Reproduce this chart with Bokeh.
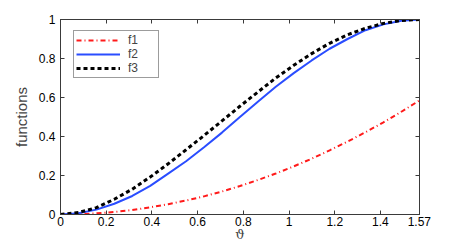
from bokeh.plotting import figure
from bokeh.models import Range1d, FixedTicker, LinearAxis, Legend, LegendItem
from bokeh.embed import file_html
from bokeh.resources import INLINE

theta = [0, 0.0785, 0.157, 0.2355, 0.314, 0.3925, 0.471, 0.5495, 0.628, 0.7065, 0.785,
         0.8635, 0.942, 1.0205, 1.099, 1.1775, 1.256, 1.3345, 1.413, 1.4915, 1.5708]
f1 = [0, 0.0015, 0.006, 0.013, 0.023, 0.037, 0.053, 0.072, 0.093, 0.118, 0.146,
      0.177, 0.21, 0.247, 0.286, 0.329, 0.374, 0.422, 0.473, 0.527, 0.585]
f2 = [0, 0.006, 0.025, 0.055, 0.095, 0.147, 0.21, 0.273, 0.345, 0.42, 0.5,
      0.578, 0.655, 0.725, 0.79, 0.85, 0.9, 0.945, 0.975, 0.994, 1.0]
f3 = [0, 0.01, 0.035, 0.078, 0.13, 0.192, 0.26, 0.332, 0.405, 0.48, 0.555,
      0.628, 0.70, 0.765, 0.825, 0.878, 0.922, 0.955, 0.98, 0.995, 1.0]

x_ticks = [0, 0.2, 0.4, 0.6, 0.8, 1.0, 1.2, 1.4, 1.57]
x_tick_labels = ["0", "0.2", "0.4", "0.6", "0.8", "1", "1.2", "1.4", "1.57"]
y_ticks = [0, 0.2, 0.4, 0.6, 0.8, 1.0]
y_tick_labels = ["0", "0.2", "0.4", "0.6", "0.8", "1"]

FONT = "Liberation Sans"
AXC = "#3a3a3a"

p = figure(width=463, height=245, output_backend="svg", toolbar_location=None,
           x_range=Range1d(0, 1.5708), y_range=Range1d(0, 1),
           min_border_left=60, min_border_right=44, min_border_top=19, min_border_bottom=31)
p.grid.visible = False
p.outline_line_color = AXC
p.background_fill_color = "white"
p.border_fill_color = "white"

def style(ax, ticks, labels, show_labels=True):
    ax.ticker = FixedTicker(ticks=ticks)
    ax.major_label_overrides = {t: (l if show_labels else "") for t, l in zip(ticks, labels)}
    ax.minor_tick_line_color = None
    ax.major_tick_in = 4
    ax.major_tick_out = 0
    ax.axis_line_color = AXC
    ax.major_tick_line_color = AXC
    ax.major_label_text_font = FONT
    ax.major_label_text_font_size = "12px"
    ax.major_label_text_color = "black"

style(p.xaxis[0], x_ticks, x_tick_labels)
style(p.yaxis[0], y_ticks, y_tick_labels)
p.xaxis[0].major_label_standoff = 2
p.xaxis[0].axis_label = "\u03d1"
p.xaxis[0].axis_label_text_font = "DejaVu Serif"
p.xaxis[0].axis_label_text_font_size = "13px"
p.xaxis[0].axis_label_text_font_style = "normal"
p.xaxis[0].axis_label_standoff = -2
p.yaxis[0].major_label_standoff = 5
p.yaxis[0].axis_label = "functions"
p.yaxis[0].axis_label_text_font = FONT
p.yaxis[0].axis_label_text_font_size = "15px"
p.yaxis[0].axis_label_text_font_style = "normal"
p.yaxis[0].axis_label_standoff = 6

top = LinearAxis()
style(top, x_ticks, x_tick_labels, show_labels=False)
top.major_label_text_font_size = "0px"
right = LinearAxis()
style(right, y_ticks, y_tick_labels, show_labels=False)
right.major_label_text_font_size = "0px"
p.add_layout(top, "above")
p.add_layout(right, "right")

r1 = p.line(theta, f1, line_color="#ff1a1a", line_width=2, line_dash="5 3 1 3")
r2 = p.line(theta, f2, line_color="#2a4dff", line_width=2)
r3 = p.line(theta, f3, line_color="black", line_width=3, line_dash="4 3")

legend = Legend(items=[LegendItem(label="f1", renderers=[r1]),
                       LegendItem(label="f2", renderers=[r2]),
                       LegendItem(label="f3", renderers=[r3])],
                location=(13, 136), glyph_width=44, glyph_height=12, label_height=12,
                label_width=28, spacing=0, padding=2, margin=0, label_standoff=8,
                label_text_font=FONT, label_text_font_size="12px",
                border_line_color=AXC, border_line_width=1, background_fill_alpha=1)
p.add_layout(legend, "center")

open("out.html", "w").write(file_html(p, INLINE))
